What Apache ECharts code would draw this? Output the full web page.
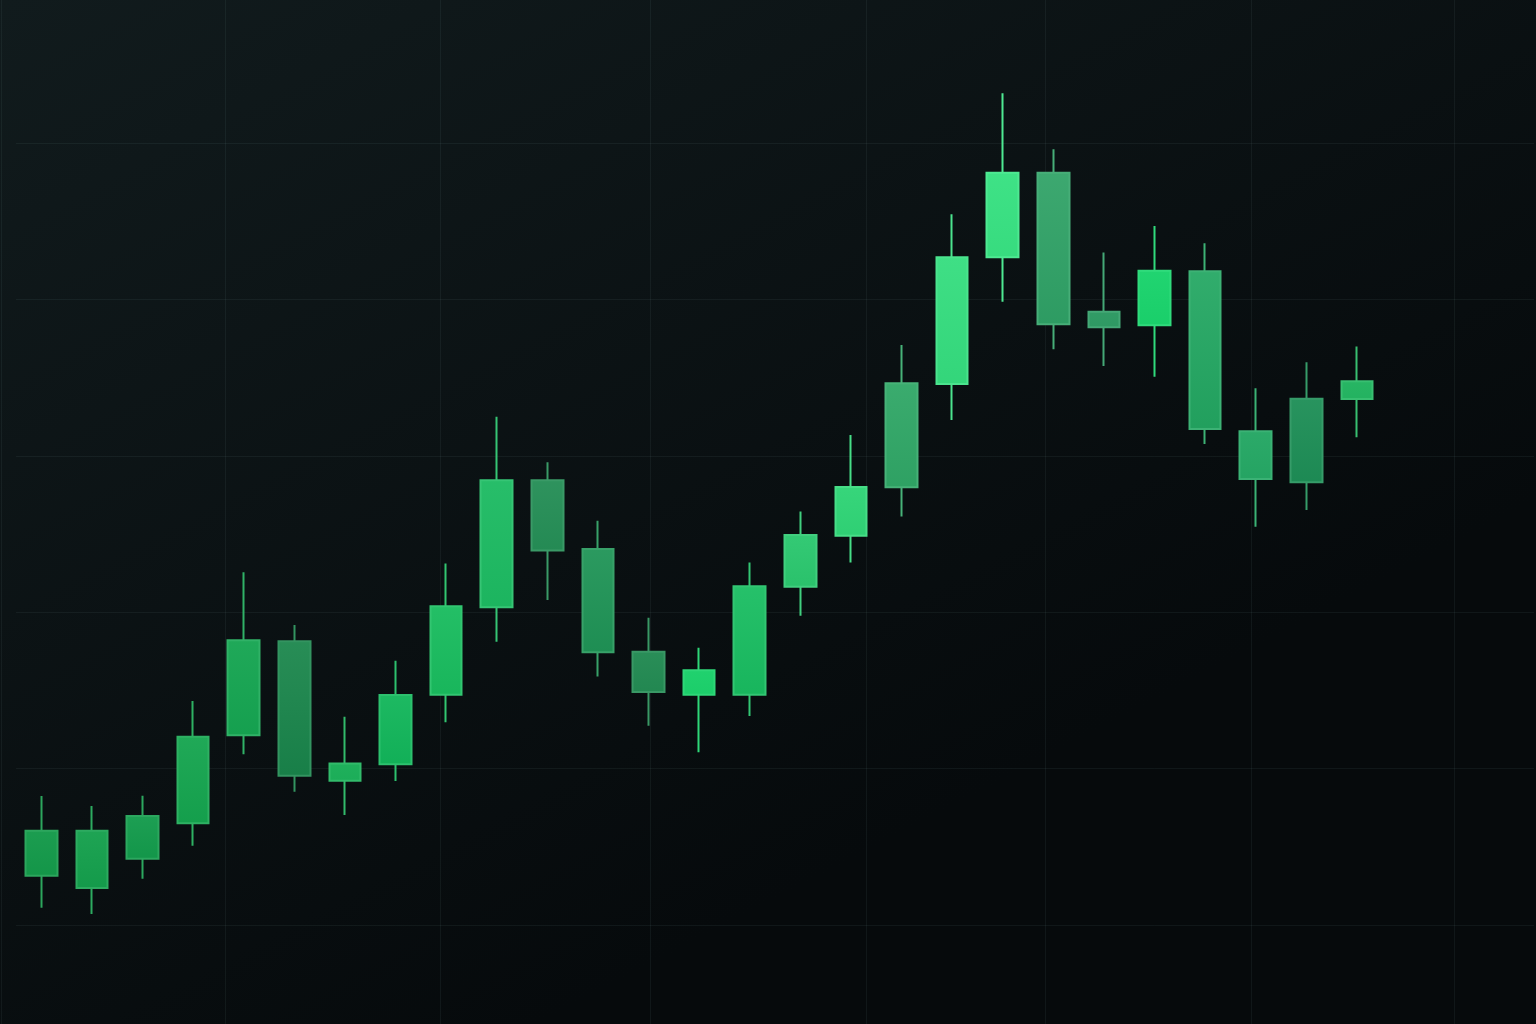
<!DOCTYPE html>
<html>
<head>
<meta charset="utf-8">
<script src="https://cdn.jsdelivr.net/npm/echarts@6/dist/echarts.min.js"></script>
<style>
html,body{margin:0;padding:0;background:#0b1113;}
#chart{width:1536px;height:1024px;}
</style>
</head>
<body>
<div id="chart"></div>
<script>
// ---- data ----
const categories = ['D01','D02','D03','D04','D05','D06','D07','D08','D09','D10',
  'D11','D12','D13','D14','D15','D16','D17','D18','D19','D20',
  'D21','D22','D23','D24','D25','D26','D27','D28','D29','D30'];
const opens  = [103.15,102.37,104.24,106.50,112.13,118.14,109.23,110.27,114.72,120.31,
  128.43,124.04,117.47,114.72,114.72,121.63,124.89,127.99,134.59,142.69,
  148.10,138.22,138.34,141.79,128.52,133.65,133.63];
const closes = [106.03,106.03,106.97,112.04,118.20,109.55,110.33,114.71,120.38,128.43,
  123.95,117.44,114.90,116.28,121.66,124.94,128.01,134.64,142.69,148.10,
  138.41,139.21,141.83,131.71,131.56,128.31,134.76];
const lows   = [101.11,100.70,102.96,105.07,110.91,108.52,107.03,109.21,112.96,118.11,
  120.78,115.88,112.74,111.04,113.36,119.77,123.18,126.11,132.29,139.85,
  136.81,135.74,135.06,130.75,125.47,126.53,131.18];
const highs  = [108.25,107.61,108.26,114.32,122.55,119.18,113.32,116.90,123.12,132.50,
  129.58,125.85,119.65,117.73,123.18,126.43,131.33,137.08,145.44,153.18,
  149.60,142.99,144.69,143.58,134.32,135.98,136.98];

// ---- styles ----
const candleColors = ['#0f9a47','#10a04a','#0f9b49','#12a64e','#14a852','#17854a','#16b257','#10b85a','#16be5e','#1bbd62',
  '#1f8c52','#1d9455','#1e8a50','#12d166','#16be60','#27c96d','#2ed977','#2ea866','#33e07f','#36e683',
  '#2ea366','#2b9c63','#14d66a','#22a862','#20a862','#1b8f55','#1db65e'];
const gridXPixels = [1,225,440,650,866,1045,1251,1454];

function shade(hex, amt){
  const n = parseInt(hex.slice(1),16);
  let r=(n>>16)&255,g=(n>>8)&255,b=n&255;
  const f = v => Math.max(0,Math.min(255,Math.round(amt>0 ? v+(255-v)*amt : v*(1+amt))));
  return 'rgb('+f(r)+','+f(g)+','+f(b)+')';
}

const seriesData = opens.map((o,i)=>{
  const c = candleColors[i];
  const grad = {type:'linear',x:0,y:0,x2:0,y2:1,colorStops:[{offset:0,color:shade(c,0.08)},{offset:1,color:shade(c,-0.06)}]};
  return {
    value:[o,closes[i],lows[i],highs[i]],
    itemStyle:{color:grad,color0:grad,borderColor:shade(c,0.12),borderColor0:shade(c,0.12)}
  };
});

const pixelCats = Array.from({length:1536},(_, i)=>String(i));

const chart = echarts.init(document.getElementById('chart'),null,{renderer:'canvas'});
chart.setOption({
  animation:false,
  backgroundColor:{type:'linear',x:0,y:0,x2:0.35,y2:1,colorStops:[{offset:0,color:'#111b1d'},{offset:1,color:'#060a0c'}]},
  grid:[
    {left:16,right:2,top:0,bottom:99},
    {left:0,right:0,top:0,bottom:0}
  ],
  xAxis:[
    {type:'category',gridIndex:0,data:categories,boundaryGap:true,show:false},
    {type:'category',gridIndex:1,data:pixelCats,boundaryGap:true,
      axisLine:{show:false},axisTick:{show:false},axisLabel:{show:false},
      splitLine:{show:true,interval:(idx)=>gridXPixels.indexOf(idx)>=0,lineStyle:{color:'rgba(150,185,185,0.075)',width:1}}}
  ],
  yAxis:[
    {type:'value',gridIndex:0,min:100,max:159.14,interval:10,
      axisLine:{show:false},axisTick:{show:false},axisLabel:{show:false},
      splitLine:{show:true,showMinLine:true,showMaxLine:false,lineStyle:{color:'rgba(150,185,185,0.075)',width:1}}},
    {type:'value',gridIndex:1,show:false,splitLine:{show:false}}
  ],
  series:[{
    type:'candlestick',
    xAxisIndex:0,yAxisIndex:0,
    barWidth:32,
    itemStyle:{borderWidth:2},
    data:seriesData,
    z:5
  }]
});
</script>
</body>
</html>
